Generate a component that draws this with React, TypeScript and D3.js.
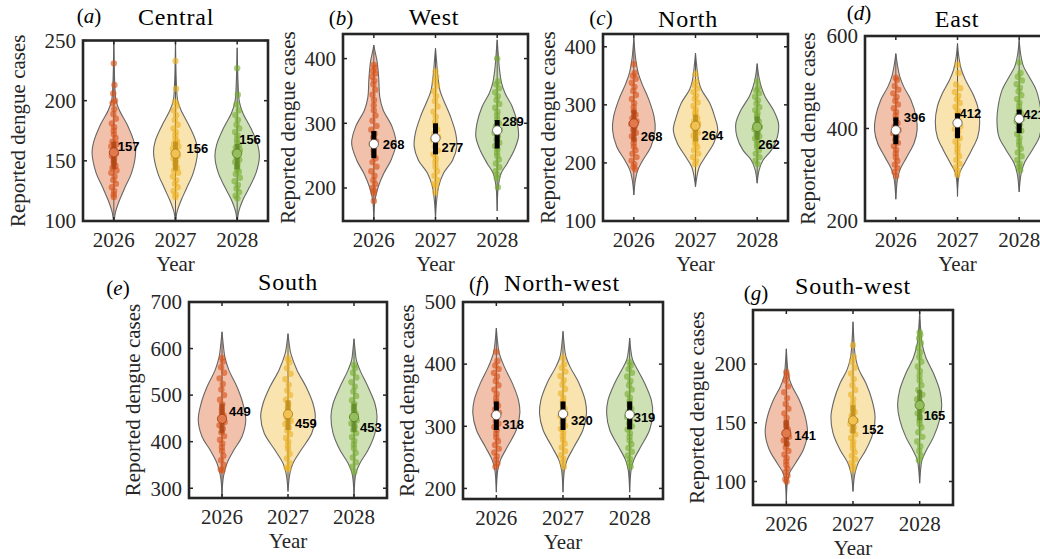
import React from "react";
import * as d3 from "d3";

// ---------------- DATA ----------------
const years = ["2026", "2027", "2028"];
const regions = ["Central", "West", "North", "East", "South", "North-west", "South-west"];
const tags = ["a", "b", "c", "d", "e", "f", "g"];

const yDomains: [number, number][] = [
  [100, 250], [149, 438], [100, 422], [200, 600], [279, 700], [183, 500], [80, 246],
];
const yTicks: number[][] = [
  [100, 150, 200, 250], [200, 300, 400], [100, 200, 300, 400], [200, 400, 600],
  [300, 400, 500, 600, 700], [200, 300, 400, 500], [100, 150, 200],
];

// median values (printed labels)
const medians: number[][] = [
  [157, 156, 156], [268, 277, 289], [268, 264, 262], [396, 412, 421],
  [449, 459, 453], [318, 320, 319], [141, 152, 165],
];

// inter-quartile ranges [q1, q3]
const quartiles: [number, number][][] = [
  [[143, 166], [142, 166], [143, 164]],
  [[246, 288], [252, 300], [261, 305]],
  [[237, 291], [237, 283], [240, 280]],
  [[366, 424], [379, 433], [390, 441]],
  [[418, 482], [425, 489], [421, 482]],
  [[294, 340], [294, 340], [295, 340]],
  [[130, 152], [141, 165], [152, 178]],
];

// kernel density profiles: [value, relative density]
const densities: [number, number][][][] = [
  [
    [[96, 0], [107, 0.07], [117, 0.25], [128.6, 0.52], [140, 0.8], [156.7, 0.98], [165, 0.92], [178.6, 0.64], [192, 0.25], [200, 0.1], [215, 0.04], [252, 0]],
    [[96, 0], [107, 0.06], [117, 0.25], [128, 0.52], [140, 0.8], [157, 0.99], [166, 0.92], [179, 0.62], [192, 0.25], [200, 0.1], [215, 0.04], [252, 0]],
    [[96, 0], [107, 0.06], [118, 0.27], [128, 0.55], [140, 0.85], [153, 1.0], [163, 0.93], [177, 0.62], [190, 0.25], [199, 0.1], [215, 0.04], [244, 0]],
  ],
  [
    [[148, 0], [181, 0.05], [202, 0.2], [222.7, 0.45], [243, 0.77], [269, 1.0], [294.8, 0.82], [320.6, 0.42], [340, 0.27], [370, 0.22], [395, 0.15], [410, 0.06], [421, 0]],
    [[153, 0], [180, 0.05], [202, 0.14], [222.7, 0.36], [243, 0.77], [264, 0.96], [284.5, 0.91], [310, 0.68], [336, 0.36], [351, 0.2], [375, 0.1], [400, 0.04], [416, 0]],
    [[164.5, 0], [202, 0.05], [222.7, 0.18], [238, 0.45], [258.7, 0.77], [279, 0.96], [300, 0.91], [325.7, 0.68], [346, 0.36], [362, 0.2], [385, 0.1], [410, 0.04], [429, 0]],
  ],
  [
    [[145, 0], [170.7, 0.07], [188, 0.18], [205, 0.41], [228, 0.77], [257, 0.96], [280, 0.91], [308.6, 0.68], [337, 0.36], [354.6, 0.2], [380, 0.08], [415, 0]],
    [[159, 0], [182, 0.09], [194, 0.18], [211, 0.45], [234, 0.82], [257, 1.0], [280, 0.86], [303, 0.64], [326, 0.27], [340, 0.15], [365, 0.06], [389, 0]],
    [[165, 0], [188, 0.09], [205, 0.27], [222, 0.64], [245, 0.91], [268, 0.96], [291, 0.73], [314, 0.36], [331.6, 0.18], [350, 0.07], [371, 0]],
  ],
  [
    [[247, 0], [288.6, 0.07], [310, 0.18], [339, 0.5], [368, 0.82], [397, 0.96], [425.6, 0.91], [461.6, 0.68], [490, 0.36], [512, 0.18], [535, 0.08], [562, 0]],
    [[253, 0], [303, 0.09], [324.7, 0.32], [353.5, 0.64], [382, 0.91], [414.8, 1.0], [447, 0.91], [476, 0.68], [505, 0.36], [526.5, 0.18], [555, 0.06], [584, 0]],
    [[263, 0], [303, 0.09], [324.7, 0.23], [353.5, 0.59], [382, 0.91], [414.8, 1.0], [447, 0.95], [483, 0.77], [512, 0.45], [533.7, 0.2], [560, 0.07], [591, 0]],
  ],
  [
    [[282, 0], [325, 0.06], [353.6, 0.21], [382, 0.5], [410.6, 0.84], [446.4, 1.0], [482, 0.88], [517.8, 0.63], [553.6, 0.29], [582, 0.12], [610, 0.05], [636, 0]],
    [[293, 0], [332, 0.08], [353.6, 0.21], [382, 0.55], [418, 1.0], [453.5, 1.15], [482, 1.05], [517.8, 0.76], [553.6, 0.38], [589, 0.12], [610, 0.05], [632, 0]],
    [[282, 0], [332, 0.08], [353.6, 0.25], [382, 0.59], [418, 0.88], [453.5, 0.97], [482, 0.88], [517.8, 0.59], [553.6, 0.25], [575, 0.1], [600, 0.04], [621, 0]],
  ],
  [
    [[194, 0], [229.5, 0.06], [245.6, 0.17], [267, 0.46], [294, 0.83], [321, 0.98], [342.4, 0.92], [369, 0.67], [396, 0.33], [417.7, 0.12], [440, 0.04], [458, 0]],
    [[194, 0], [229.5, 0.06], [245.6, 0.17], [267, 0.46], [294, 0.83], [321, 0.98], [342.4, 0.92], [369, 0.67], [396, 0.29], [412.3, 0.12], [435, 0.04], [453, 0]],
    [[194, 0], [229.5, 0.06], [245.6, 0.17], [267, 0.46], [294, 0.83], [321, 0.96], [342.4, 0.9], [369, 0.63], [391, 0.33], [407, 0.12], [425, 0.04], [442, 0]],
  ],
  [
    [[83, 0], [98.6, 0.04], [107, 0.13], [115.6, 0.38], [127, 0.71], [141, 0.88], [155, 0.79], [169.4, 0.54], [180.7, 0.25], [189, 0.1], [200, 0.04], [213, 0]],
    [[91.5, 0], [107, 0.08], [115.6, 0.21], [127, 0.54], [141, 0.83], [155, 0.92], [169.4, 0.79], [183.6, 0.54], [195, 0.25], [206, 0.1], [220, 0.04], [236, 0]],
    [[98.6, 0], [110, 0.04], [118.4, 0.1], [127, 0.29], [138, 0.58], [152.4, 0.83], [165, 0.92], [178, 0.83], [192, 0.58], [206, 0.25], [217.6, 0.1], [230, 0.04], [244, 0]],
  ],
];

// individual simulated case counts (scatter points)
const samples: number[][][] = [
  [
    [231, 213, 206, 200, 198, 193, 189, 185, 181, 178, 175, 172, 169, 166, 164, 162, 160, 158, 156, 154, 152, 150, 148, 146, 144, 142, 140, 137, 134, 131, 128, 125, 122, 120],
    [233, 210, 199, 196, 192, 188, 184, 180, 177, 174, 171, 168, 166, 164, 162, 160, 158, 156, 154, 152, 150, 148, 146, 144, 142, 140, 137, 134, 131, 128, 125, 122, 120],
    [227, 205, 197, 192, 188, 184, 180, 177, 174, 171, 168, 165, 163, 161, 159, 157, 155, 153, 151, 149, 147, 145, 143, 141, 139, 136, 133, 130, 127, 124, 121, 119],
  ],
  [
    [390, 386, 381, 377, 372, 366, 360, 352, 344, 336, 328, 320, 312, 304, 296, 290, 284, 278, 272, 268, 264, 258, 252, 246, 240, 233, 226, 219, 212, 206, 200, 196, 192, 180],
    [380, 372, 365, 358, 350, 342, 334, 326, 318, 310, 302, 296, 290, 284, 279, 274, 269, 264, 258, 252, 246, 240, 233, 226, 219, 212, 206, 203, 193],
    [400, 365, 360, 354, 348, 342, 336, 330, 324, 318, 312, 306, 300, 295, 290, 285, 280, 275, 270, 265, 260, 255, 250, 244, 238, 232, 226, 220, 215, 201],
  ],
  [
    [370, 355, 350, 345, 338, 331, 324, 317, 310, 303, 296, 289, 283, 277, 272, 267, 262, 257, 252, 246, 240, 234, 228, 222, 216, 210, 204, 198, 193, 189],
    [353, 340, 334, 328, 322, 316, 310, 304, 298, 292, 287, 282, 277, 272, 268, 264, 260, 256, 252, 247, 242, 237, 232, 227, 222, 216, 210, 204, 198],
    [340, 330, 325, 320, 314, 308, 302, 296, 291, 286, 281, 276, 271, 266, 262, 258, 254, 250, 246, 242, 237, 232, 227, 222, 216, 210, 204, 198],
  ],
  [
    [510, 505, 492, 484, 476, 468, 460, 452, 444, 436, 428, 420, 412, 404, 397, 390, 383, 376, 369, 362, 354, 346, 338, 330, 322, 314, 306, 298],
    [538, 520, 495, 487, 479, 471, 463, 455, 447, 439, 431, 424, 417, 411, 405, 399, 393, 386, 379, 372, 364, 356, 348, 340, 332, 324, 316, 308, 300],
    [543, 520, 512, 504, 496, 488, 480, 472, 464, 456, 448, 440, 433, 427, 421, 415, 409, 402, 395, 388, 380, 372, 364, 356, 348, 340, 332, 324, 317, 310],
  ],
  [
    [580, 572, 560, 548, 536, 524, 512, 500, 490, 480, 471, 463, 456, 449, 442, 435, 428, 420, 412, 404, 396, 388, 380, 370, 360, 350, 340, 338],
    [578, 570, 558, 546, 534, 522, 510, 500, 490, 481, 473, 466, 459, 452, 445, 438, 431, 424, 416, 408, 400, 392, 384, 374, 364, 354, 344, 342],
    [565, 558, 548, 538, 528, 518, 508, 498, 489, 481, 474, 467, 460, 453, 446, 439, 432, 425, 418, 410, 402, 394, 386, 376, 366, 356, 346, 335],
  ],
  [
    [420, 405, 398, 392, 386, 380, 373, 366, 359, 352, 345, 339, 333, 327, 322, 318, 314, 309, 304, 299, 294, 288, 282, 276, 270, 264, 258, 252, 246, 240, 235],
    [410, 400, 394, 388, 381, 374, 367, 360, 353, 346, 340, 334, 328, 323, 320, 316, 311, 306, 301, 296, 290, 284, 278, 272, 266, 260, 254, 248, 242, 235],
    [403, 398, 392, 386, 380, 373, 366, 359, 352, 346, 340, 334, 328, 323, 319, 315, 310, 305, 300, 295, 289, 283, 277, 271, 265, 259, 253, 247, 241, 235],
  ],
  [
    [193, 190, 186, 181, 176, 171, 166, 162, 158, 154, 150, 147, 144, 141, 138, 135, 132, 129, 126, 123, 120, 117, 114, 111, 108, 105, 102, 100],
    [216, 206, 202, 197, 192, 187, 182, 178, 174, 170, 166, 162, 159, 156, 152, 149, 146, 143, 140, 137, 134, 131, 128, 125, 122, 119, 116, 113, 110],
    [227, 225, 222, 218, 214, 210, 206, 202, 198, 194, 190, 186, 182, 178, 174, 170, 167, 164, 161, 158, 155, 152, 149, 146, 142, 138, 134, 130, 126, 122, 118],
  ],
];

// ---------------- STYLE / LAYOUT ----------------
const seriesColors = ["#D95319", "#EDB120", "#77AC30"];
const serif = "'Liberation Serif', 'Times New Roman', serif";
const sans = "'Liberation Sans', Arial, sans-serif";
const axisColor = "#262626";

type Frame = {
  l: number; r: number; t: number; b: number;
  titleX: number; titleY: number; tagX: number; tagY: number;
  ylabX: number; dark: boolean;
};
const frames: Frame[] = [
  { l: 83, r: 268, t: 40.5, b: 221, titleX: 176, titleY: 25, tagX: 89, tagY: 23, ylabX: 18, dark: false },
  { l: 343, r: 528, t: 34, b: 221, titleX: 434, titleY: 25, tagX: 341, tagY: 25, ylabX: 288, dark: true },
  { l: 603, r: 788, t: 34, b: 221, titleX: 688, titleY: 27, tagX: 601, tagY: 25, ylabX: 548, dark: false },
  { l: 865, r: 1050, t: 36, b: 221, titleX: 957, titleY: 27, tagX: 859, tagY: 20, ylabX: 808, dark: true },
  { l: 189, r: 387, t: 302, b: 498, titleX: 288, titleY: 290, tagX: 118, tagY: 295, ylabX: 133, dark: false },
  { l: 463, r: 663, t: 302, b: 499, titleX: 562, titleY: 291, tagX: 479, tagY: 291, ylabX: 407, dark: true },
  { l: 753, r: 953, t: 310, b: 505, titleX: 853, titleY: 294, tagX: 756, tagY: 300, ylabX: 697, dark: false },
];
// label nudges [dx, dy] in px from the median point
const labelNudges: [number, number][][] = [
  [[4, -6], [11, -5], [2, -14]],
  [[9, 0], [6, 9], [5, -9]],
  [[7, 13], [6, 10], [1, 18]],
  [[8, -13], [2, -9], [4, -4]],
  [[7, -7], [7, 9], [6, 11]],
  [[6, 9], [8, 7], [4, 3]],
  [[8, 2], [9, 9], [4, 10]],
];
const jitterPattern = [0, 0.55, -0.45, 0.9, -0.85, 0.25, -0.2, 0.7, -0.65, 0.1, -0.05];

function Panel({ i }: { i: number }) {
  const f = frames[i];
  const x = d3.scalePoint<string>().domain(years).range([f.l, f.r]).padding(0.5);
  const y = d3.scaleLinear().domain(yDomains[i]).range([f.b, f.t]);
  const step = x.step();
  const maxHW = 0.36 * step;
  const clipId = `clip-${i}`;
  const tickLen = 4;

  return (
    <g>
      <defs>
        <clipPath id={clipId}>
          <rect x={f.l} y={f.t} width={f.r - f.l} height={f.b - f.t} />
        </clipPath>
      </defs>
      <rect x={f.l} y={f.t} width={f.r - f.l} height={f.b - f.t} fill="#ffffff" />
      <g clipPath={`url(#${clipId})`}>
        {years.map((yr, j) => {
          const cx = x(yr) as number;
          const prof = densities[i][j];
          const relAt = d3.scaleLinear().domain(prof.map((p) => p[0])).range(prof.map((p) => p[1])).clamp(true);
          const area = d3
            .area<[number, number]>()
            .y((d) => y(d[0]))
            .x0((d) => cx - d[1] * maxHW)
            .x1((d) => cx + d[1] * maxHW)
            .curve(d3.curveCatmullRom.alpha(0.5));
          const color = seriesColors[j];
          const lo = prof[0][0];
          const hi = prof[prof.length - 1][0];
          const [q1, q3] = quartiles[i][j];
          const med = medians[i][j];
          const boxFill = f.dark ? "#000000" : (d3.color(color) as d3.RGBColor).darker(0.7).formatHex();
          const medFill = f.dark ? "#ffffff" : d3.interpolateRgb(color, "#ffffff")(0.22);
          const medStroke = f.dark ? "#555555" : (d3.color(color) as d3.RGBColor).darker(0.9).formatHex();
          return (
            <g key={yr}>
              <path d={area(prof) || ""} fill={color} fillOpacity={0.36} stroke="#666666" strokeWidth={1.1} />
              <line x1={cx} x2={cx} y1={y(lo)} y2={y(hi)} stroke="#5c5c5c" strokeWidth={1} />
              {samples[i][j].map((v, k) => {
                const spread = Math.min(1, relAt(v) * 1.4 + 0.3);
                const dx = jitterPattern[k % jitterPattern.length] * 3.0 * spread;
                return <circle key={k} cx={cx + dx} cy={y(v)} r={3.2} fill={color} fillOpacity={0.62} />;
              })}
              <rect
                x={cx - 2.5}
                y={y(q3)}
                width={5}
                height={y(q1) - y(q3)}
                fill={boxFill}
                fillOpacity={f.dark ? 1 : 0.75}
              />
              <circle cx={cx} cy={y(med)} r={4.6} fill={medFill} stroke={medStroke} strokeWidth={0.8} />
            </g>
          );
        })}
      </g>
      {years.map((yr, j) => {
        const cx = x(yr) as number;
        const [dx, dy] = labelNudges[i][j];
        return (
          <text
            key={"lab" + yr}
            x={cx + dx}
            y={y(medians[i][j]) + dy}
            dominantBaseline="central"
            fontFamily={sans}
            fontWeight="bold"
            fontSize={13}
            fill="#000"
          >
            {medians[i][j]}
          </text>
        );
      })}
      {/* ticks */}
      {yTicks[i].map((t) => (
        <g key={"yt" + t}>
          <line x1={f.l} x2={f.l + tickLen} y1={y(t)} y2={y(t)} stroke={axisColor} strokeWidth={1.5} />
          <line x1={f.r} x2={f.r - tickLen} y1={y(t)} y2={y(t)} stroke={axisColor} strokeWidth={1.5} />
          <text
            x={f.l - 7}
            y={y(t)}
            dy="0.35em"
            textAnchor="end"
            fontFamily={serif}
            fontSize={21}
            fill={axisColor}
          >
            {t}
          </text>
        </g>
      ))}
      {years.map((yr) => {
        const cx = x(yr) as number;
        return (
          <g key={"xt" + yr}>
            <line x1={cx} x2={cx} y1={f.b} y2={f.b - tickLen} stroke={axisColor} strokeWidth={1.5} />
            <line x1={cx} x2={cx} y1={f.t} y2={f.t + tickLen} stroke={axisColor} strokeWidth={1.5} />
            <text x={cx} y={f.b + 26} textAnchor="middle" fontFamily={serif} fontSize={21} fill={axisColor}>
              {yr}
            </text>
          </g>
        );
      })}
      <rect
        x={f.l}
        y={f.t}
        width={f.r - f.l}
        height={f.b - f.t}
        fill="none"
        stroke={axisColor}
        strokeWidth={2.6}
      />
      <text
        x={(f.l + f.r) / 2}
        y={f.b + 50}
        textAnchor="middle"
        fontFamily={serif}
        fontSize={21}
        fill={axisColor}
      >
        Year
      </text>
      <text
        transform={`translate(${f.ylabX},${(f.t + f.b) / 2}) rotate(-90)`}
        textAnchor="middle"
        dominantBaseline="central"
        fontFamily={serif}
        fontSize={21}
        fill={axisColor}
      >
        Reported dengue cases
      </text>
      <text
        x={f.titleX}
        y={f.titleY}
        textAnchor="middle"
        fontFamily={serif}
        fontSize={24}
        letterSpacing={0.8}
        fill="#000"
      >
        {regions[i]}
      </text>
      <text x={f.tagX} y={f.tagY} textAnchor="middle" fontFamily={serif} fontSize={21} fill="#000">
        (<tspan fontStyle="italic">{tags[i]}</tspan>)
      </text>
    </g>
  );
}

export default function App() {
  return (
    <svg
      width={1040}
      height={559}
      viewBox="0 0 1040 559"
      style={{ position: "absolute", left: 0, top: 0, background: "#ffffff" }}
    >
      <rect width={1040} height={559} fill="#ffffff" />
      {regions.map((_, i) => (
        <Panel key={i} i={i} />
      ))}
    </svg>
  );
}
